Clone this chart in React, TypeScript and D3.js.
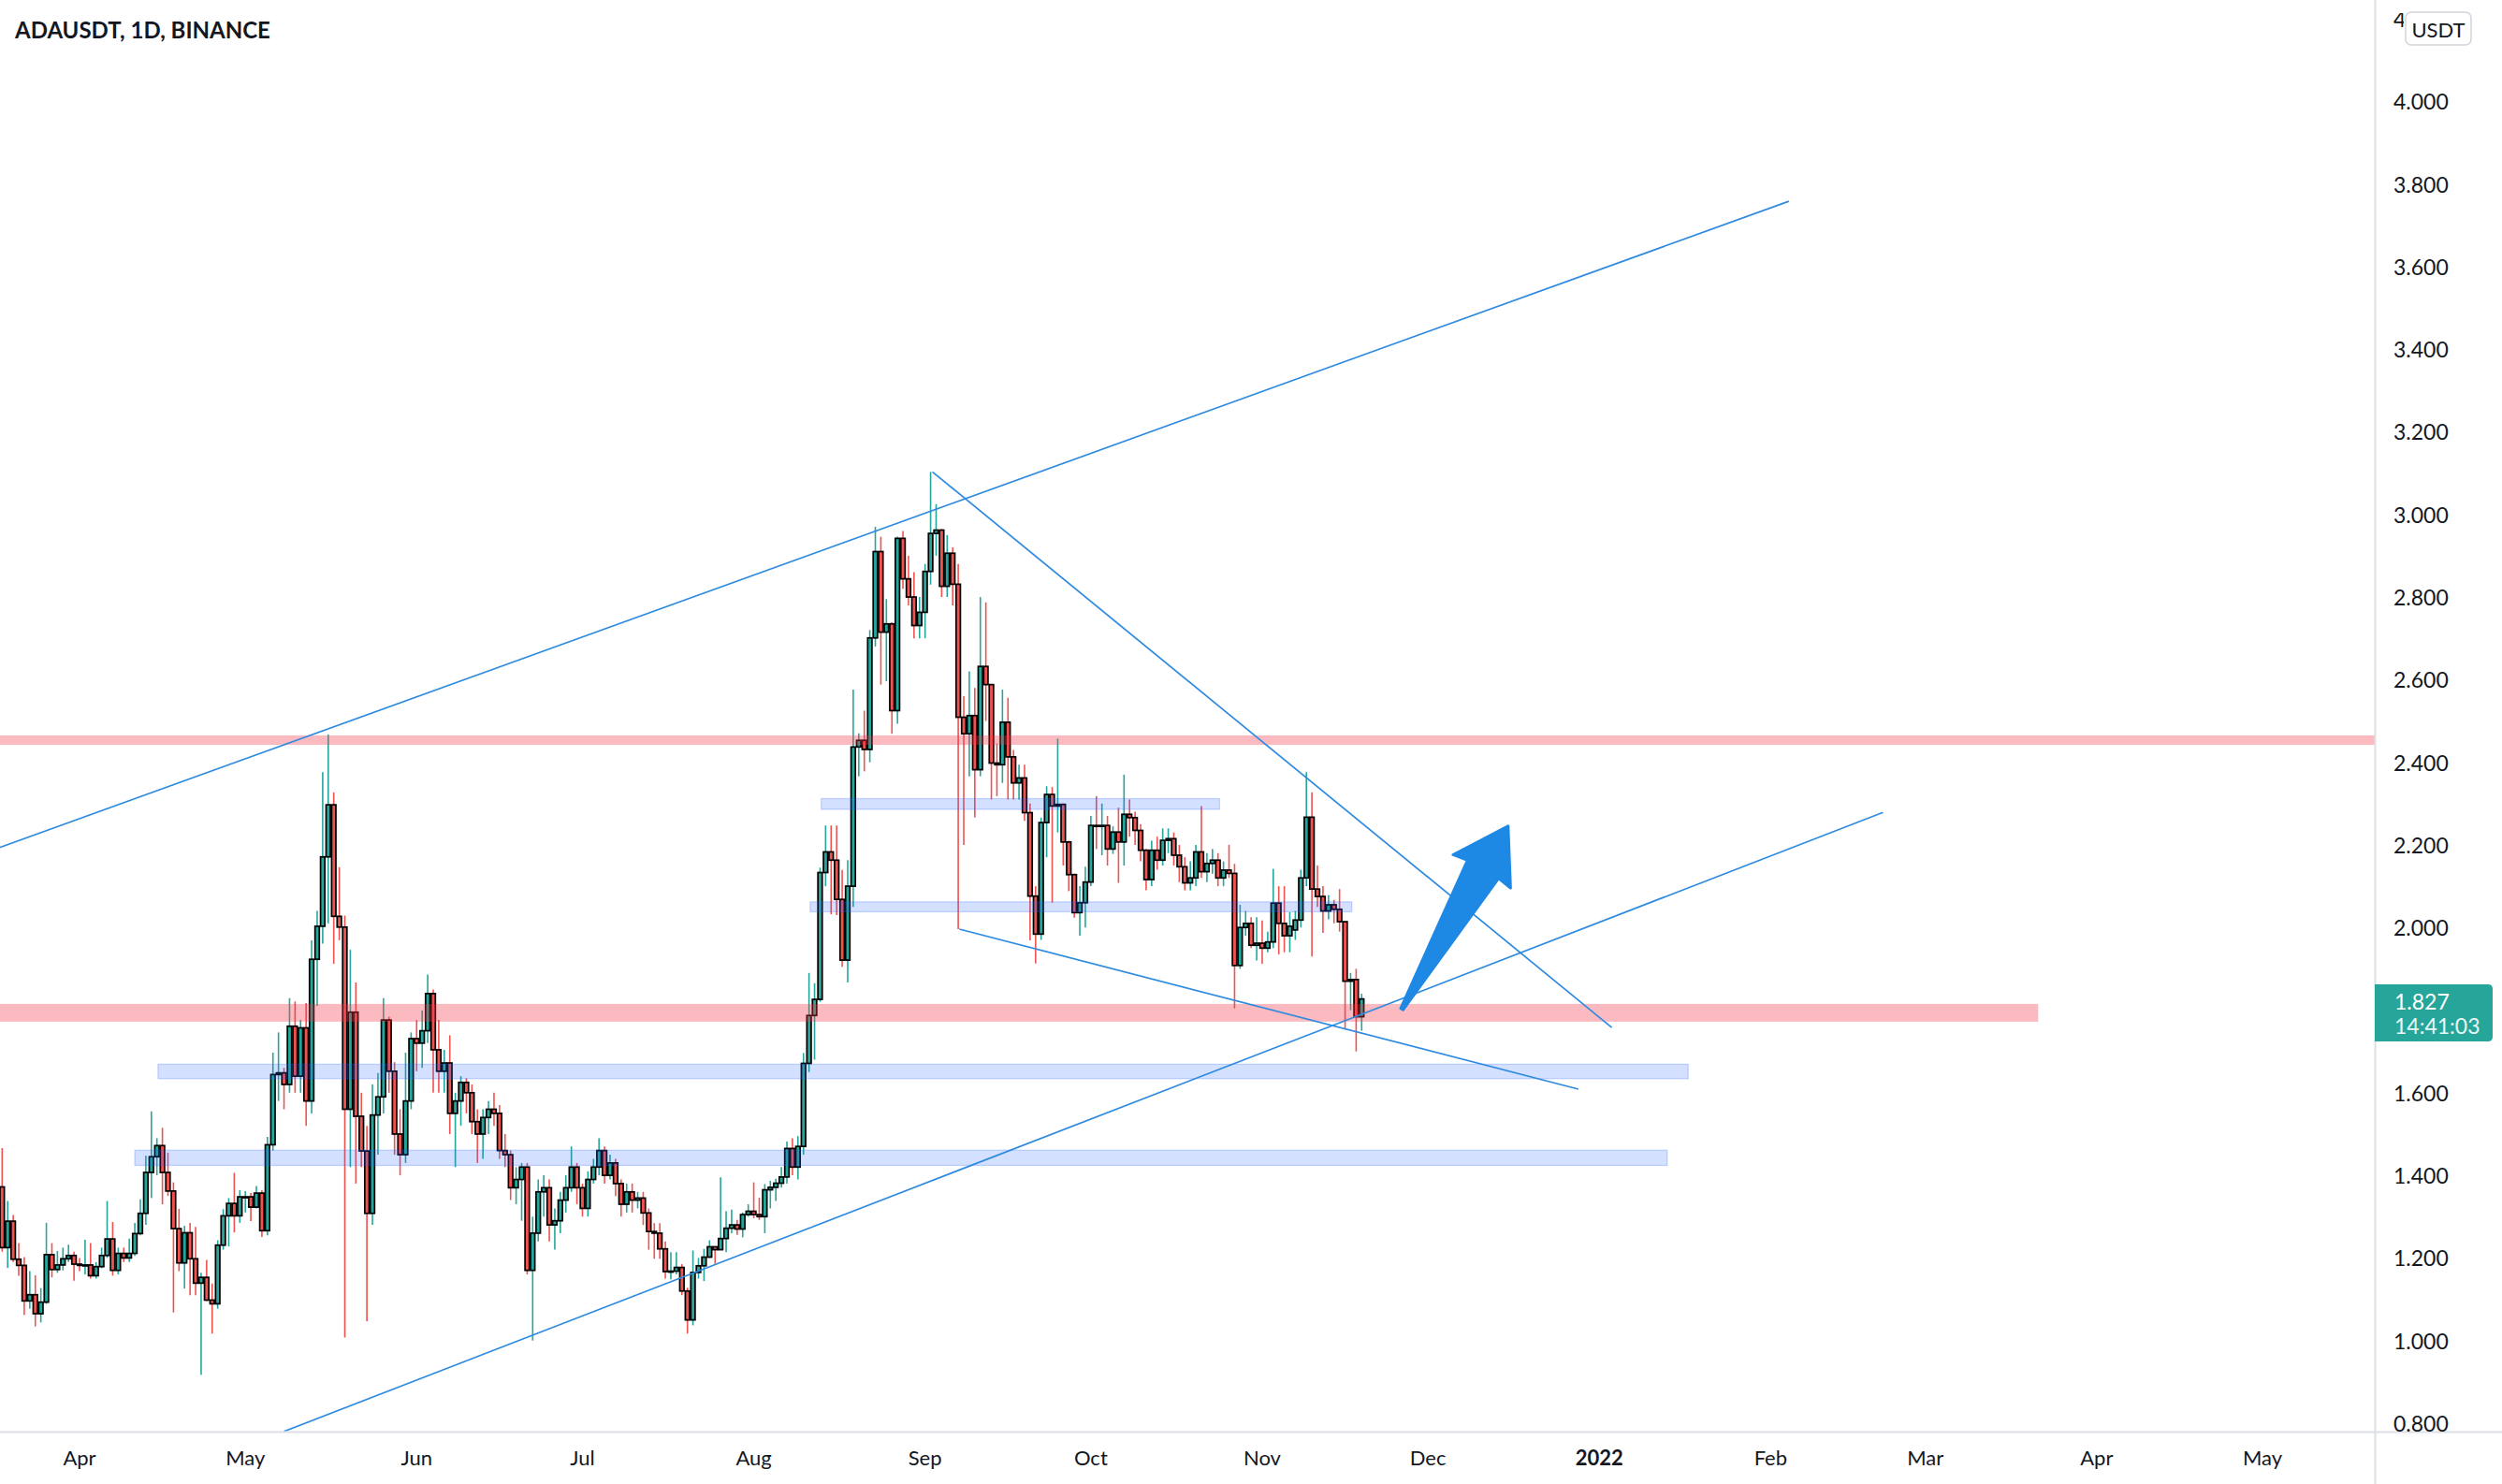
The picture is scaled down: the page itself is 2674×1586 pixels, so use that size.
import React from "react";
import * as d3 from "d3";

// ---------- DATA ----------
const title = "ADAUSDT, 1D, BINANCE";
const firstDay = "2021-03-18T00:00:00Z";

const opens = [
  1.372, 1.225, 1.289, 1.197, 1.182, 1.096, 1.111, 1.065, 1.093, 1.208,
  1.172, 1.183, 1.198, 1.206, 1.185, 1.182, 1.183, 1.157, 1.179, 1.206,
  1.246, 1.170, 1.211, 1.200, 1.211, 1.259, 1.308, 1.407, 1.445, 1.472,
  1.407, 1.362, 1.271, 1.188, 1.261, 1.198, 1.139, 1.153, 1.098, 1.089,
  1.231, 1.302, 1.332, 1.302, 1.348, 1.348, 1.323, 1.357, 1.266, 1.474,
  1.644, 1.648, 1.620, 1.761, 1.640, 1.757, 1.580, 1.923, 2.003, 2.171,
  2.297, 2.027, 2.001, 1.560, 1.795, 1.543, 1.459, 1.308, 1.546, 1.590,
  1.776, 1.652, 1.500, 1.450, 1.580, 1.731, 1.720, 1.750, 1.840, 1.704,
  1.652, 1.672, 1.550, 1.580, 1.625, 1.600, 1.530, 1.500, 1.540, 1.560,
  1.550, 1.460, 1.450, 1.370, 1.390, 1.420, 1.170, 1.260, 1.360, 1.370,
  1.280, 1.290, 1.340, 1.370, 1.420, 1.370, 1.320, 1.390, 1.420, 1.460,
  1.400, 1.430, 1.380, 1.330, 1.360, 1.340, 1.345, 1.309, 1.264, 1.260,
  1.222, 1.167, 1.168, 1.177, 1.120, 1.050, 1.165, 1.181, 1.202, 1.227,
  1.220, 1.247, 1.272, 1.280, 1.270, 1.305, 1.313, 1.305, 1.300, 1.365,
  1.371, 1.381, 1.396, 1.465, 1.420, 1.470, 1.671, 1.787, 1.826, 2.133,
  2.183, 2.163, 2.068, 1.921, 2.100, 2.437, 2.453, 2.431, 2.701, 2.910,
  2.715, 2.735, 2.525, 2.942, 2.844, 2.800, 2.731, 2.763, 2.862, 2.954,
  2.962, 2.826, 2.906, 2.831, 2.509, 2.469, 2.513, 2.382, 2.632, 2.588,
  2.398, 2.394, 2.497, 2.413, 2.350, 2.362, 2.278, 2.076, 1.984, 2.254,
  2.322, 2.294, 2.298, 2.207, 2.128, 2.036, 2.060, 2.110, 2.247, 2.245,
  2.247, 2.190, 2.231, 2.207, 2.274, 2.266, 2.235, 2.187, 2.116, 2.187,
  2.163, 2.211, 2.215, 2.175, 2.147, 2.108, 2.120, 2.183, 2.135, 2.155,
  2.163, 2.120, 2.139, 2.131, 1.908, 2.000, 2.010, 1.957, 1.962, 1.950,
  1.965, 2.059, 2.010, 1.980, 1.994, 2.018, 2.120, 2.267, 2.093, 2.075,
  2.040, 2.055, 2.044, 2.014, 1.870, 1.874, 1.784,
];

const highs = [
  1.466, 1.338, 1.304, 1.236, 1.202, 1.168, 1.158, 1.127, 1.285, 1.236,
  1.217, 1.225, 1.232, 1.215, 1.200, 1.244, 1.236, 1.190, 1.225, 1.338,
  1.287, 1.225, 1.225, 1.247, 1.285, 1.342, 1.447, 1.555, 1.490, 1.515,
  1.455, 1.383, 1.319, 1.278, 1.285, 1.275, 1.164, 1.195, 1.138, 1.243,
  1.318, 1.345, 1.406, 1.364, 1.362, 1.357, 1.374, 1.364, 1.493, 1.697,
  1.746, 1.660, 1.829, 1.821, 1.776, 1.817, 1.969, 2.040, 2.376, 2.467,
  2.327, 2.146, 2.029, 1.946, 1.867, 1.600, 1.520, 1.620, 1.648, 1.829,
  1.784, 1.674, 1.560, 1.697, 1.746, 1.776, 1.799, 1.886, 1.850, 1.776,
  1.704, 1.739, 1.600, 1.640, 1.635, 1.620, 1.560, 1.560, 1.580, 1.600,
  1.570, 1.500, 1.460, 1.420, 1.430, 1.430, 1.300, 1.390, 1.400, 1.390,
  1.320, 1.360, 1.400, 1.470, 1.430, 1.380, 1.410, 1.440, 1.490, 1.470,
  1.450, 1.440, 1.390, 1.380, 1.380, 1.360, 1.360, 1.320, 1.284, 1.284,
  1.240, 1.214, 1.214, 1.185, 1.128, 1.218, 1.200, 1.222, 1.243, 1.227,
  1.395, 1.313, 1.317, 1.292, 1.310, 1.330, 1.383, 1.346, 1.379, 1.387,
  1.392, 1.420, 1.482, 1.490, 1.495, 1.696, 1.890, 1.865, 2.145, 2.247,
  2.247, 2.247, 2.139, 2.163, 2.576, 2.470, 2.525, 2.720, 2.970, 2.946,
  2.795, 2.739, 2.946, 2.960, 2.900, 2.860, 2.800, 2.880, 3.103, 3.025,
  2.965, 2.950, 2.920, 2.880, 2.560, 2.620, 2.580, 2.800, 2.787, 2.590,
  2.445, 2.576, 2.556, 2.430, 2.394, 2.394, 2.300, 2.100, 2.266, 2.342,
  2.340, 2.457, 2.300, 2.210, 2.130, 2.100, 2.147, 2.270, 2.318, 2.300,
  2.270, 2.245, 2.290, 2.370, 2.310, 2.280, 2.250, 2.190, 2.210, 2.220,
  2.240, 2.240, 2.230, 2.200, 2.170, 2.160, 2.200, 2.294, 2.180, 2.190,
  2.180, 2.160, 2.200, 2.154, 2.055, 2.040, 2.025, 2.025, 2.017, 1.990,
  2.142, 2.100, 2.100, 2.037, 2.040, 2.140, 2.376, 2.327, 2.150, 2.100,
  2.078, 2.067, 2.093, 2.014, 1.890, 1.900, 1.840,
];

const lows = [
  1.215, 1.176, 1.190, 1.157, 1.062, 1.077, 1.034, 1.044, 1.089, 1.153,
  1.164, 1.170, 1.190, 1.145, 1.168, 1.160, 1.150, 1.150, 1.175, 1.200,
  1.157, 1.160, 1.190, 1.190, 1.205, 1.255, 1.280, 1.345, 1.400, 1.330,
  1.350, 1.068, 1.168, 1.126, 1.110, 1.110, 0.917, 1.095, 1.017, 1.077,
  1.220, 1.228, 1.262, 1.285, 1.310, 1.289, 1.320, 1.251, 1.255, 1.460,
  1.580, 1.560, 1.600, 1.600, 1.600, 1.520, 1.550, 1.810, 1.961, 2.010,
  1.912, 1.969, 1.007, 1.420, 1.380, 1.420, 1.047, 1.280, 1.450, 1.550,
  1.600, 1.450, 1.400, 1.430, 1.560, 1.652, 1.660, 1.720, 1.600, 1.600,
  1.600, 1.500, 1.420, 1.520, 1.550, 1.500, 1.430, 1.440, 1.500, 1.520,
  1.440, 1.420, 1.340, 1.330, 1.290, 1.160, 1.000, 1.240, 1.300, 1.240,
  1.220, 1.260, 1.310, 1.360, 1.330, 1.300, 1.300, 1.380, 1.400, 1.380,
  1.390, 1.350, 1.300, 1.310, 1.310, 1.320, 1.280, 1.220, 1.198, 1.198,
  1.150, 1.148, 1.160, 1.110, 1.017, 1.037, 1.150, 1.144, 1.200, 1.186,
  1.220, 1.214, 1.260, 1.256, 1.250, 1.300, 1.296, 1.292, 1.260, 1.320,
  1.338, 1.370, 1.380, 1.400, 1.390, 1.450, 1.650, 1.680, 1.820, 2.100,
  2.032, 2.030, 1.905, 1.867, 2.050, 2.366, 2.378, 2.400, 2.680, 2.588,
  2.596, 2.469, 2.493, 2.820, 2.780, 2.700, 2.700, 2.700, 2.830, 2.900,
  2.800, 2.800, 2.780, 1.996, 2.200, 2.366, 2.266, 2.366, 2.500, 2.310,
  2.318, 2.350, 2.310, 2.310, 2.310, 2.258, 1.969, 1.913, 1.970, 2.170,
  2.060, 2.230, 2.150, 2.088, 2.024, 1.980, 2.000, 2.100, 2.190, 2.175,
  2.150, 2.178, 2.108, 2.150, 2.220, 2.200, 2.160, 2.090, 2.100, 2.140,
  2.150, 2.180, 2.150, 2.110, 2.090, 2.090, 2.100, 2.120, 2.110, 2.130,
  2.100, 2.100, 2.120, 1.804, 1.900, 1.980, 1.950, 1.920, 1.912, 1.940,
  1.950, 1.935, 1.940, 1.940, 1.970, 2.000, 2.100, 1.930, 2.050, 1.987,
  2.020, 2.010, 1.990, 1.753, 1.800, 1.700, 1.750,
];

const closes = [
  1.225, 1.289, 1.197, 1.182, 1.096, 1.111, 1.065, 1.093, 1.208, 1.172,
  1.183, 1.198, 1.206, 1.185, 1.182, 1.183, 1.157, 1.179, 1.206, 1.246,
  1.170, 1.211, 1.200, 1.211, 1.259, 1.308, 1.407, 1.445, 1.472, 1.407,
  1.362, 1.271, 1.188, 1.261, 1.198, 1.139, 1.153, 1.098, 1.089, 1.231,
  1.302, 1.332, 1.302, 1.348, 1.348, 1.323, 1.357, 1.266, 1.474, 1.644,
  1.648, 1.620, 1.761, 1.640, 1.757, 1.580, 1.923, 2.003, 2.171, 2.297,
  2.027, 2.001, 1.560, 1.795, 1.543, 1.459, 1.308, 1.546, 1.590, 1.776,
  1.652, 1.500, 1.450, 1.580, 1.731, 1.720, 1.750, 1.840, 1.704, 1.652,
  1.672, 1.550, 1.580, 1.625, 1.600, 1.530, 1.500, 1.540, 1.560, 1.550,
  1.460, 1.450, 1.370, 1.390, 1.420, 1.170, 1.260, 1.360, 1.370, 1.280,
  1.290, 1.340, 1.370, 1.420, 1.370, 1.320, 1.390, 1.420, 1.460, 1.400,
  1.430, 1.380, 1.330, 1.360, 1.340, 1.345, 1.309, 1.264, 1.260, 1.222,
  1.167, 1.168, 1.177, 1.120, 1.050, 1.165, 1.181, 1.202, 1.227, 1.220,
  1.247, 1.272, 1.280, 1.270, 1.305, 1.313, 1.305, 1.300, 1.365, 1.371,
  1.381, 1.396, 1.465, 1.420, 1.470, 1.671, 1.787, 1.826, 2.133, 2.183,
  2.163, 2.068, 1.921, 2.100, 2.437, 2.453, 2.431, 2.701, 2.910, 2.715,
  2.735, 2.525, 2.942, 2.844, 2.800, 2.731, 2.763, 2.862, 2.954, 2.962,
  2.826, 2.906, 2.831, 2.509, 2.469, 2.513, 2.382, 2.632, 2.588, 2.398,
  2.394, 2.497, 2.413, 2.350, 2.362, 2.278, 2.076, 1.984, 2.254, 2.322,
  2.294, 2.298, 2.207, 2.128, 2.036, 2.060, 2.110, 2.247, 2.245, 2.247,
  2.190, 2.231, 2.207, 2.274, 2.266, 2.235, 2.187, 2.116, 2.187, 2.163,
  2.211, 2.215, 2.175, 2.147, 2.108, 2.120, 2.183, 2.135, 2.155, 2.163,
  2.120, 2.139, 2.131, 1.908, 2.000, 2.010, 1.957, 1.962, 1.950, 1.965,
  2.059, 2.010, 1.980, 2.003, 2.018, 2.120, 2.267, 2.093, 2.075, 2.040,
  2.055, 2.044, 2.014, 1.870, 1.874, 1.784, 1.827,
];

const priceTicks = [0.8, 1.0, 1.2, 1.4, 1.6, 1.8, 2.0, 2.2, 2.4, 2.6, 2.8, 3.0, 3.2, 3.4, 3.6, 3.8, 4.0, 4.2];
const hiddenPriceTicks = [1.8];
const monthTickDates = [
  "2021-04-01", "2021-05-01", "2021-06-01", "2021-07-01", "2021-08-01", "2021-09-01", "2021-10-01",
  "2021-11-01", "2021-12-01", "2022-01-01", "2022-02-01", "2022-03-01", "2022-04-01", "2022-05-01",
];
const monthTickLabels = ["Apr", "May", "Jun", "Jul", "Aug", "Sep", "Oct", "Nov", "Dec", "2022", "Feb", "Mar", "Apr", "May"];

// horizontal zones: [start, end, low price, high price]
const redZones: [string, string, number, number][] = [
  ["2021-03-01T00:00:00Z", "2022-07-01T00:00:00Z", 2.442, 2.465],
  ["2021-03-01T00:00:00Z", "2022-03-21T10:00:00Z", 1.772, 1.815],
];
const blueZones: [string, string, number, number][] = [
  ["2021-08-13T05:00:00Z", "2021-10-24T07:00:00Z", 2.286, 2.312],
  ["2021-08-11T05:00:00Z", "2021-11-17T05:00:00Z", 2.038, 2.062],
  ["2021-04-15T05:00:00Z", "2022-01-17T02:00:00Z", 1.634, 1.669],
  ["2021-04-11T00:00:00Z", "2022-01-13T07:00:00Z", 1.424, 1.461],
];
// trend lines: [start date, start price, end date, end price]
const trendLines: [string, number, string, number][] = [
  ["2021-03-17T00:00:00Z", 2.191, "2022-02-04T07:00:00Z", 3.758],
  ["2021-05-08T00:00:00Z", 0.78, "2022-02-21T08:00:00Z", 2.2785],
  ["2021-09-02T08:00:00Z", 3.103, "2022-01-03T06:00:00Z", 1.758],
  ["2021-09-07T05:00:00Z", 1.996, "2021-12-28T05:00:00Z", 1.6086],
];
const arrowFrom: [string, number] = ["2021-11-26T07:00:00Z", 1.8027];
const arrowTo: [string, number] = ["2021-12-15T12:00:00Z", 2.2457];

const lastPrice = "1.827";
const countdown = "14:41:03";
const currency = "USDT";

// ---------- LAYOUT ----------
const W = 2674;
const H = 1586;
const PR = 2538; // plot right
const PB = 1530; // plot bottom
const UP = "#26a69a";
const DOWN = "#ef5350";
const LINE = "#2f8be0";
const FONT = "Lato, 'Open Sans', sans-serif";

export default function App() {
  const x = d3
    .scaleUtc()
    .domain([new Date("2021-04-01T00:00:00Z"), new Date("2022-05-01T00:00:00Z")])
    .range([85, 2418]);
  const y = d3.scaleLinear().domain([0.8, 4.2]).range([1521, 20]);
  const t0 = new Date(firstDay);
  const candles = closes.map((c, i) => ({
    d: d3.utcDay.offset(t0, i),
    o: opens[i],
    h: highs[i],
    l: lows[i],
    c,
  }));
  const bodyW = 4.6;

  // arrow geometry
  const ax0 = x(new Date(arrowFrom[0]));
  const ay0 = y(arrowFrom[1]);
  const ax1 = x(new Date(arrowTo[0]));
  const ay1 = y(arrowTo[1]);
  const dx = ax1 - ax0;
  const dy = ay1 - ay0;
  const L = Math.hypot(dx, dy);
  const ux = dx / L;
  const uy = dy / L;
  const nx = -uy;
  const ny = ux;
  const pt = (along: number, across: number) =>
    [ax0 + ux * along + nx * across, ay0 + uy * along + ny * across].join(",");
  const arrowPts = [
    pt(0, -1.5),
    pt(L * 0.764, -L * 0.085),
    pt(L * 0.752, -L * 0.157),
    pt(L, 0),
    pt(L * 0.752, L * 0.157),
    pt(L * 0.764, L * 0.085),
    pt(0, 1.5),
  ].join(" ");

  return (
    <svg
      width={W}
      height={H}
      viewBox={`0 0 ${W} ${H}`}
      style={{ position: "absolute", left: 0, top: 0, display: "block", background: "#fff" }}
    >
      <defs>
        <clipPath id="plot">
          <rect x={0} y={0} width={PR} height={PB} />
        </clipPath>
        <clipPath id="topTick">
          <rect x={PR} y={14} width={2569 - PR} height={40} />
        </clipPath>
      </defs>
      <rect x={0} y={0} width={W} height={H} fill="#ffffff" />

      <g clipPath="url(#plot)">
        {/* wicks */}
        {candles.map((k, i) => (
          <line
            key={"w" + i}
            x1={x(k.d)}
            x2={x(k.d)}
            y1={y(k.h)}
            y2={y(k.l)}
            stroke={k.c >= k.o ? UP : DOWN}
            strokeWidth={1.6}
          />
        ))}
        {/* bodies */}
        {candles.map((k, i) => {
          const top = y(Math.max(k.o, k.c));
          const bot = y(Math.min(k.o, k.c));
          return (
            <rect
              key={"b" + i}
              x={x(k.d) - bodyW / 2}
              y={top}
              width={bodyW}
              height={Math.max(1, bot - top)}
              fill={k.c >= k.o ? UP : DOWN}
              stroke="#000"
              strokeWidth={1.7}
            />
          );
        })}

        {/* zones */}
        {redZones.map((z, i) => (
          <rect
            key={"rz" + i}
            x={x(new Date(z[0]))}
            y={y(z[3])}
            width={x(new Date(z[1])) - x(new Date(z[0]))}
            height={y(z[2]) - y(z[3])}
            fill="rgba(242,54,69,0.34)"
          />
        ))}
        {blueZones.map((z, i) => (
          <rect
            key={"bz" + i}
            x={x(new Date(z[0]))}
            y={y(z[3])}
            width={x(new Date(z[1])) - x(new Date(z[0]))}
            height={y(z[2]) - y(z[3])}
            fill="rgba(41,98,255,0.2)"
            stroke="rgba(41,98,255,0.25)"
            strokeWidth={1.2}
          />
        ))}

        {/* trend lines */}
        {trendLines.map((l, i) => (
          <line
            key={"tl" + i}
            x1={x(new Date(l[0]))}
            y1={y(l[1])}
            x2={x(new Date(l[2]))}
            y2={y(l[3])}
            stroke={LINE}
            strokeWidth={1.7}
          />
        ))}

        {/* arrow */}
        <polygon points={arrowPts} fill="#1e88e5" stroke="#1e88e5" strokeWidth={3} strokeLinejoin="round" />
      </g>

      {/* axes borders */}
      <line x1={PR + 0.5} x2={PR + 0.5} y1={0} y2={H} stroke="#dcdfe6" strokeWidth={2} />
      <line x1={0} x2={W} y1={PB + 0.5} y2={PB + 0.5} stroke="#dcdfe6" strokeWidth={2} />

      {/* price axis labels */}
      {priceTicks
        .filter((t) => !hiddenPriceTicks.includes(t))
        .map((t, i) => (
          <text
            key={"pt" + i}
            x={2558}
            y={y(t)}
            dominantBaseline="central"
            fontFamily={FONT}
            fontSize={23}
            fill="#131722"
            clipPath={y(t) < 40 ? "url(#topTick)" : undefined}
          >
            {d3.format(".3f")(t)}
          </text>
        ))}

      {/* time axis labels */}
      {monthTickDates.map((d, i) => (
        <text
          key={"mt" + i}
          x={x(new Date(d + "T00:00:00Z"))}
          y={1557}
          textAnchor="middle"
          dominantBaseline="central"
          fontFamily={FONT}
          fontSize={22}
          fontWeight={monthTickLabels[i] === "2022" ? 700 : 400}
          fill="#131722"
        >
          {monthTickLabels[i]}
        </text>
      ))}

      {/* currency badge */}
      <rect x={2571} y={13} width={70} height={35} rx={6} fill="#fff" stroke="#d1d4dc" strokeWidth={1.5} />
      <text x={2606} y={31} textAnchor="middle" dominantBaseline="central" fontFamily={FONT} fontSize={22} fill="#131722">
        {currency}
      </text>

      {/* last price badge */}
      <path
        d={`M ${PR} ${1052} H ${2659} Q ${2664} ${1052} ${2664} ${1057} V ${1108} Q ${2664} ${1113} ${2659} ${1113} H ${PR} Z`}
        fill={UP}
      />
      <text x={2559} y={1070} dominantBaseline="central" fontFamily={FONT} fontSize={23} fill="#fff">
        {lastPrice}
      </text>
      <text x={2559} y={1096} dominantBaseline="central" fontFamily={FONT} fontSize={23} fill="#e8f6f4">
        {countdown}
      </text>

      {/* title */}
      <text x={16} y={41} fontFamily={FONT} fontSize={24} fontWeight={700} fill="#131722">
        {title}
      </text>
    </svg>
  );
}
